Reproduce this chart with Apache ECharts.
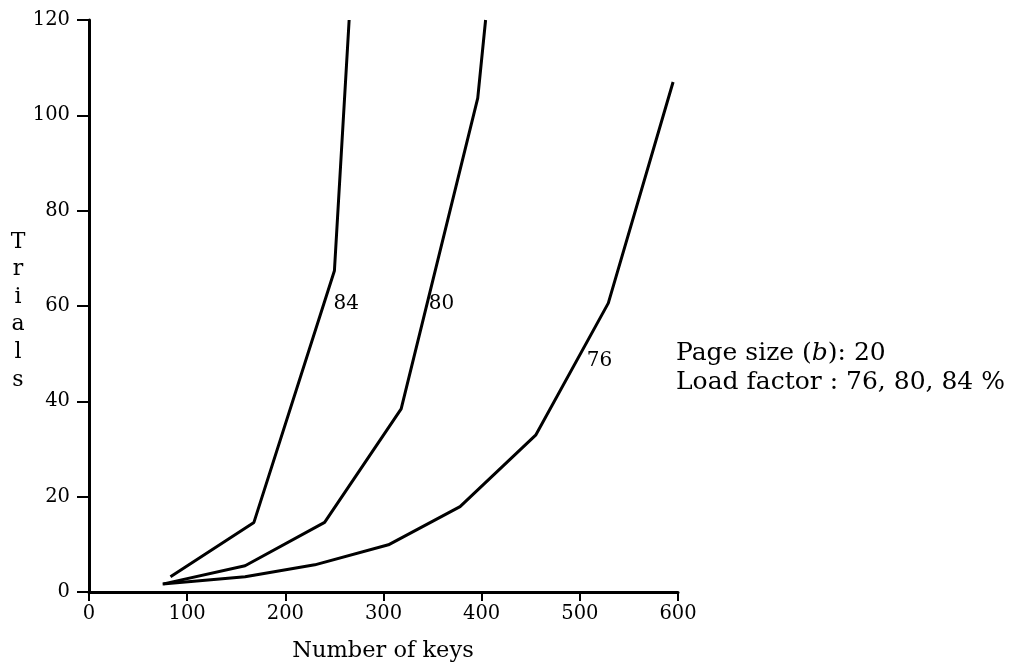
<!DOCTYPE html>
<html><head><meta charset="utf-8">
<script src="https://cdn.jsdelivr.net/npm/echarts@6/dist/echarts.min.js"></script>
<style>html,body{margin:0;padding:0;background:#fff}#c{width:1026px;height:668px}</style>
</head><body><div id="c"></div>
<script>
// x tick values / y tick values
const xTicks = [0, 100, 200, 300, 400, 500, 600];
const yTicks = [0, 20, 40, 60, 80, 100, 120];
// series: [number of keys, trials]
const lf84 = [[83, 3.2], [168, 14.6], [250, 67.4], [265, 120]];
const lf80 = [[76, 1.7], [159, 5.5], [240, 14.6], [318, 38.4], [396, 103.6], [404, 120]];
const lf76 = [[75, 1.7], [159, 3.2], [230, 5.7], [305, 9.9], [378, 17.9], [455, 32.9], [529, 60.6], [595, 107]];
const seriesNames = ['84', '80', '76'];
const xName = 'Number of keys';
const yName = 'Trials';
const noteLine2 = 'Load factor : 76, 80, 84 %';

const FONT = 'DejaVu Serif';
const chart = echarts.init(document.getElementById('c'), null, {renderer: 'canvas'});

function lineSeries(name, data, labelCoord) {
  return {
    name: name, type: 'line', data: data, symbol: 'none', silent: true,
    lineStyle: {color: '#000', width: 3},
    markPoint: {
      silent: true, symbol: 'circle', symbolSize: 1,
      itemStyle: {color: 'rgba(0,0,0,0)'},
      label: {show: true, position: 'inside', formatter: name, color: '#000',
              fontFamily: FONT, fontSize: 20},
      data: [{coord: labelCoord}]
    }
  };
}

chart.setOption({
  backgroundColor: '#fff',
  animation: false,
  grid: {left: 89, right: 348, top: 20, bottom: 76},
  xAxis: {
    type: 'value', min: xTicks[0], max: xTicks[xTicks.length - 1], interval: 100,
    axisLine: {show: true, lineStyle: {color: '#000', width: 3}},
    axisTick: {show: true, length: 9, lineStyle: {color: '#000', width: 2}},
    axisLabel: {color: '#000', fontFamily: FONT, fontSize: 19.5, margin: 12},
    splitLine: {show: false}
  },
  yAxis: {
    type: 'value', min: yTicks[0], max: yTicks[yTicks.length - 1], interval: 20,
    axisLine: {show: true, lineStyle: {color: '#000', width: 3}},
    axisTick: {show: true, length: 12, lineStyle: {color: '#000', width: 2}},
    axisLabel: {color: '#000', fontFamily: FONT, fontSize: 19.5, margin: 19},
    splitLine: {show: false}
  },
  series: [
    lineSeries(seriesNames[0], lf84, [262, 60.4]),
    lineSeries(seriesNames[1], lf80, [359, 60.4]),
    lineSeries(seriesNames[2], lf76, [520, 48.5])
  ],
  graphic: [
    {type: 'text', x: 383, y: 651,
     style: {text: xName, fontFamily: FONT, fontSize: 22.5, fill: '#000',
             align: 'center', verticalAlign: 'middle'}},
    {type: 'text', x: 18, y: 228,
     style: {text: yName.split('').join('\n'), fontFamily: FONT, fontSize: 22,
             lineHeight: 27.6, fill: '#000', align: 'center'}},
    {type: 'text', x: 676, y: 339,
     style: {
       rich: {n: {fontFamily: FONT, fontSize: 25, fill: '#000', lineHeight: 29},
              i: {fontFamily: FONT, fontSize: 25, fontStyle: 'italic', fill: '#000', lineHeight: 29}},
       text: '{n|Page size (}{i|b}{n|): 20}\n{n|' + noteLine2 + '}',
       fill: '#000'
     }}
  ]
});
</script></body></html>
